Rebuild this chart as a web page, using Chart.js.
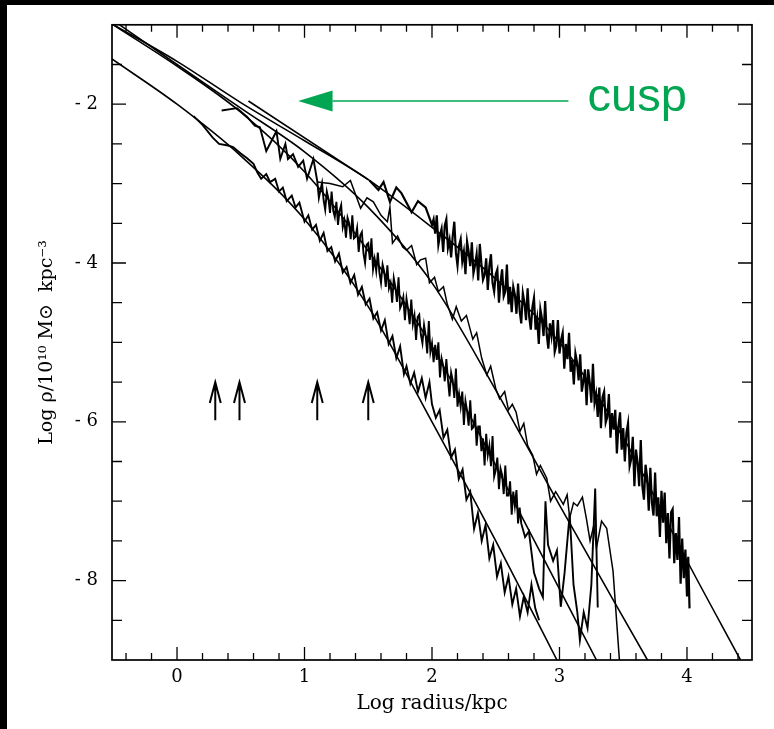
<!DOCTYPE html>
<html>
<head>
<meta charset="utf-8">
<script src="https://cdn.jsdelivr.net/npm/chart.js@4.4.1/dist/chart.umd.min.js"></script>
<style>
  html, body { margin: 0; padding: 0; background: #fff; }
  #wrap { position: relative; width: 774px; height: 729px; }
</style>
</head>
<body>
<div id="wrap"><canvas id="profile" width="774" height="729"></canvas></div>
<script>
/* ---------- DATA ---------- */
// axis labels
const xLabels = [0, 1, 2, 3, 4];
const yLabels = [-8, -6, -4, -2];

// smooth model fits (read at knots)
const m4X = [-0.52, 0, 0.5, 1.0, 1.5, 2.0, 2.5, 3.0, 3.5, 4.0, 4.42];
const m4Y = [-0.98, -1.46, -1.98, -2.46, -2.95, -3.55, -4.2, -5.0, -6.2, -7.75, -9.0];
const m3X = [-0.45, 0, 0.5, 1.0, 1.5, 2.0, 2.5, 3.0, 3.69];
const m3Y = [-1.0, -1.5, -2.05, -2.6, -3.3, -4.25, -5.6, -7.05, -9.0];
const m2X = [-0.52, 0, 0.5, 1.0, 1.5, 2.0, 2.5, 2.69, 3.29];
const m2Y = [-0.98, -1.52, -2.1, -2.85, -3.85, -5.05, -6.55, -7.15, -9.0];
const m1X = [-0.52, 0, 0.5, 1.0, 1.5, 2.0, 2.5, 2.98];
const m1Y = [-1.42, -2.0, -2.65, -3.45, -4.55, -6.0, -7.5, -9.0];

// straight "cusp" power law
const cuspX = [0.56, 1.5];
const cuspY = [-1.96, -2.95];

// measured profiles
const d4X = [1.51,1.58,1.62,1.67,1.72,1.76,1.84,1.89,1.95,2.00,
  2.0125,2.025,2.0375,2.05,2.0625,2.075,2.0875,2.1,2.1125,2.125,2.1375,2.15,2.1625,2.175,2.1875,2.2,2.2125,2.225,2.2375,2.25,
  2.2625,2.275,2.2875,2.3,2.3125,2.325,2.3375,2.35,2.3625,2.375,2.3875,2.4,2.4125,2.425,2.4375,2.45,2.4625,2.475,2.4875,2.5,
  2.5125,2.525,2.5375,2.55,2.5625,2.575,2.5875,2.6,2.6125,2.625,2.6375,2.65,2.6625,2.675,2.6875,2.7,2.7125,2.725,2.7375,2.75,
  2.7625,2.775,2.7875,2.8,2.8125,2.825,2.8375,2.85,2.8625,2.875,2.8875,2.9,2.9125,2.925,2.9375,2.95,2.9625,2.975,2.9875,3.0,
  3.0125,3.025,3.0375,3.05,3.0625,3.075,3.0875,3.1,3.1125,3.125,3.1375,3.15,3.1625,3.175,3.1875,3.2,3.2125,3.225,3.2375,3.25,
  3.2625,3.275,3.2875,3.3,3.3125,3.325,3.3375,3.35,3.3625,3.375,3.3875,3.4,3.4125,3.425,3.4375,3.45,3.4625,3.475,3.4875,3.5,
  3.5125,3.525,3.5375,3.55,3.5625,3.575,3.5875,3.6,3.6125,3.625,3.6375,3.65,3.6625,3.675,3.6875,3.7,3.7125,3.725,3.7375,3.75,
  3.7625,3.775,3.7875,3.8,3.8125,3.825,3.8375,3.85,3.8625,3.875,3.8875,3.9,3.9125,3.925,3.9375,3.95,3.9625,3.975,3.9875,4.0,
  4.01,4.02];
const d4Y = [-2.96,-3.08,-2.98,-3.23,-3.05,-3.12,-3.36,-3.22,-3.30,-3.52,
  -3.45,-3.63,-3.40,-3.77,-3.65,-3.57,-3.86,-3.53,-3.45,-3.81,-3.71,-3.93,-3.66,-3.48,-3.87,-4.03,-3.78,-3.70,-3.98,-3.86,
  -4.14,-3.73,-3.86,-4.04,-3.74,-4.13,-4.03,-3.89,-4.22,-3.76,-4.01,-4.21,-4.15,-3.94,-4.34,-4.04,-3.89,-4.25,-4.36,-4.14,
  -4.08,-4.50,-4.24,-4.08,-4.42,-4.36,-4.02,-4.52,-4.30,-4.62,-4.30,-4.40,-4.64,-4.26,-4.60,-4.76,-4.38,-4.50,-4.72,-4.32,
  -4.68,-4.84,-4.56,-4.44,-4.84,-4.70,-5.02,-4.58,-4.70,-4.92,-4.48,-4.90,-5.08,-4.76,-4.92,-4.72,-5.12,-5.04,-4.72,-5.14,
  -4.97,-4.88,-5.33,-5.02,-5.21,-4.88,-5.37,-5.22,-5.53,-5.14,-5.25,-5.48,-5.15,-5.62,-5.49,-5.34,-5.79,-5.34,-5.51,-5.76,
  -5.27,-5.76,-5.65,-5.94,-5.57,-6.08,-5.69,-5.62,-6.01,-5.94,-5.65,-6.20,-5.89,-6.10,-5.85,-6.40,-6.05,-5.88,-6.35,-6.08,
  -6.50,-6.14,-6.02,-6.56,-6.47,-6.19,-6.81,-6.35,-6.51,-6.81,-6.23,-6.81,-6.98,-6.54,-6.70,-7.12,-6.58,-7.02,-7.18,-6.64,
  -7.19,-6.95,-7.45,-6.87,-7.27,-6.89,-7.53,-7.15,-7.72,-7.14,-7.10,-7.78,-7.40,-7.74,-7.20,-8.04,-7.47,-7.97,-7.61,-8.20,
  -7.70,-8.35];

const d3X = [1.10,1.20,1.30,1.36,1.44,1.49,1.54,1.60,1.65,1.67,1.69,1.73,1.77,1.80,1.84,1.88,1.91,1.95,1.98,2.02,
  2.05,2.09,2.12,2.16,2.19,2.23,2.27,2.32,2.35,2.39,2.43,2.46,2.50,2.53,2.57,2.60,2.63,2.66,2.69,2.72,
  2.75,2.79,2.82,2.85,2.90,2.93,2.97,3.03,3.06,3.08,3.11,3.14,3.18,3.21,3.24,3.27,3.29,3.33,3.37,3.42,3.47];
const d3Y = [-2.98,-3.00,-3.04,-2.96,-3.31,-3.18,-3.23,-3.40,-3.48,-3.30,-3.75,-3.66,-3.80,-3.84,-3.78,-4.02,-3.96,-3.94,-4.25,-4.18,
  -4.36,-4.30,-4.52,-4.71,-4.55,-4.73,-4.66,-4.96,-4.88,-5.20,-5.41,-5.30,-5.58,-5.71,-5.62,-5.85,-5.78,-5.88,-6.12,-6.02,
  -6.30,-6.42,-6.66,-6.55,-6.71,-7.00,-6.88,-7.04,-6.92,-7.21,-7.02,-7.06,-6.95,-7.21,-7.50,-7.30,-7.59,-7.25,-7.34,-7.88,-9.00];

const d2X = [0.35,0.47,0.55,0.61,0.65,0.70,0.78,0.81,0.85,0.87,0.91,0.95,0.99,1.02,1.07,
  1.1,1.1125,1.125,1.1375,1.15,1.1625,1.175,1.1875,1.2,1.2125,1.225,1.2375,1.25,1.2625,1.275,1.2875,1.3,1.3125,1.325,1.3375,
  1.35,1.3625,1.375,1.3875,1.4,1.4125,1.425,1.4375,1.45,1.4625,1.475,1.4875,1.5,1.5125,1.525,1.5375,1.55,1.5625,1.575,1.5875,
  1.6,1.6125,1.625,1.6375,1.65,1.6625,1.675,1.6875,1.7,1.7125,1.725,1.7375,1.75,1.7625,1.775,1.7875,1.8,1.8125,1.825,1.8375,
  1.85,1.8625,1.875,1.8875,1.9,1.9125,1.925,1.9375,1.95,1.9625,1.975,1.9875,2.0,2.0125,2.025,2.0375,2.05,2.0625,2.075,2.0875,
  2.1,2.1125,2.125,2.1375,2.15,2.1625,2.175,2.1875,2.2,2.2125,2.225,2.2375,2.25,2.2625,2.275,2.2875,2.3,2.3125,2.325,2.3375,
  2.35,2.3625,2.375,2.3875,2.4,2.4125,2.425,2.4375,2.45,2.4625,2.475,2.4875,2.5,2.5125,2.525,2.5375,2.55,2.5625,2.575,2.5875,
  2.6,2.6125,2.625,2.6375,2.65,2.6625,2.675,2.6875,2.7,
  2.73,2.76,2.80,2.84,2.87,2.89,2.91,2.95,2.98,3.01,3.04,3.08,3.11,3.14,3.16,3.19,3.22,3.25,3.28,3.30];
const d2Y = [-2.08,-2.05,-2.16,-2.27,-2.29,-2.59,-2.34,-2.69,-2.50,-2.69,-2.63,-2.79,-2.71,-2.94,-2.69,
  -2.97,-3.18,-3.08,-2.99,-3.21,-3.33,-3.10,-3.19,-3.37,-3.10,-3.34,-3.42,-3.23,-3.52,-3.34,-3.27,-3.55,-3.46,-3.68,-3.43,
  -3.50,-3.70,-3.40,-3.69,-3.67,-3.56,-3.86,-3.65,-3.61,-3.88,-4.00,-3.77,-3.75,-3.96,-3.69,-4.08,-3.95,-4.10,-3.87,-4.12,
  -4.25,-4.02,-4.11,-4.30,-4.03,-4.32,-4.25,-4.50,-4.19,-4.30,-4.49,-4.18,-4.57,-4.52,-4.43,-4.72,-4.45,-4.58,-4.77,-4.46,
  -4.77,-4.66,-4.97,-4.68,-4.65,-4.90,-5.01,-4.78,-4.91,-5.14,-4.73,-5.12,-5.01,-5.25,-5.03,-5.22,-5.00,-5.44,-5.20,-5.29,
  -5.49,-5.21,-5.47,-5.68,-5.38,-5.48,-5.70,-5.33,-5.81,-5.65,-5.81,-5.62,-6.04,-5.74,-5.86,-6.05,-5.73,-6.09,-6.07,-5.90,
  -6.30,-6.06,-6.06,-6.37,-6.21,-6.55,-6.15,-6.42,-6.30,-6.56,-6.18,-6.69,-6.61,-6.45,-6.85,-6.59,-6.67,-6.91,-6.55,-6.93,
  -6.93,-6.75,-7.17,-6.88,-7.06,-6.86,-7.28,-7.08,-7.28,
  -7.45,-7.38,-7.90,-8.10,-8.21,-7.00,-7.55,-7.75,-7.62,-8.33,-7.90,-7.16,-8.05,-8.40,-8.75,-8.40,-8.60,-8.05,-6.84,-8.34];

const d1X = [0.13,0.20,0.28,0.33,0.40,0.44,0.50,0.55,0.60,0.63,0.66,0.70,0.73,0.77,0.80,0.83,0.86,0.90,0.93,0.96,
  1.00,1.03,1.06,1.09,1.12,1.15,1.18,1.21,1.24,1.27,1.30,1.33,1.36,1.39,1.42,1.45,1.48,1.51,1.54,1.57,
  1.60,1.63,1.66,1.69,1.72,1.75,1.78,1.80,1.83,1.86,1.89,1.92,1.95,1.98,2.00,2.03,2.06,2.09,2.12,2.15,
  2.18,2.21,2.24,2.27,2.30,2.33,2.36,2.39,2.42,2.45,2.48,2.51,2.54,2.57,2.60,2.63,2.66,2.69,2.72,2.75,
  2.78,2.81,2.84];
const d1Y = [-2.15,-2.26,-2.42,-2.50,-2.52,-2.54,-2.62,-2.68,-2.75,-2.86,-2.94,-2.88,-2.98,-2.94,-3.10,-3.05,-3.22,-3.15,-3.30,-3.24,
  -3.48,-3.40,-3.58,-3.52,-3.72,-3.62,-3.85,-3.80,-3.98,-3.88,-4.12,-4.05,-4.25,-4.15,-4.40,-4.30,-4.52,-4.45,-4.70,-4.62,
  -4.85,-4.72,-5.02,-4.92,-5.20,-5.05,-5.40,-5.30,-5.52,-5.38,-5.62,-5.45,-5.70,-5.50,-5.78,-5.95,-5.85,-6.20,-6.10,-6.45,
  -6.35,-6.72,-6.60,-6.98,-6.88,-7.35,-7.15,-7.50,-7.30,-7.72,-7.55,-7.95,-7.78,-8.15,-7.95,-8.30,-8.10,-8.45,-8.20,-8.40,
  -8.05,-8.35,-8.50];

// markers: upward arrows and the green "cusp" pointer
const arrowX = [0.3, 0.49, 1.1, 1.5];
const arrowTipY = -5.5;
const arrowTailY = -5.98;
const cuspArrow = { tip: 0.95, base: 1.22, end: 3.07, y: -1.96 };
const cuspLabel = { text: 'cusp', x: 3.22, y: -2.09 };

/* ---------- HELPERS ---------- */
const GREEN = '#00a651';
const SERIF = "'DejaVu Serif', 'Liberation Serif', serif";

function pts(xs, ys) { return xs.map((v, i) => ({ x: v, y: ys[i] })); }

function model(xs, ys) {
  return { data: pts(xs, ys), borderColor: '#000', borderWidth: 1.6,
           pointRadius: 0, fill: false, cubicInterpolationMode: 'monotone' };
}
function measured(xs, ys, w) {
  return { data: pts(xs, ys), borderColor: '#000', borderWidth: w,
           pointRadius: 0, fill: false, tension: 0, borderJoinStyle: 'miter' };
}

/* ---------- PLUGINS ---------- */
const background = {
  id: 'background',
  beforeDraw(chart) {
    const { ctx, width, height } = chart;
    ctx.save();
    ctx.fillStyle = '#fff';
    ctx.fillRect(0, 0, width, height);
    ctx.fillStyle = '#000';          // scan border, top and left
    ctx.fillRect(0, 0, width, 5);
    ctx.fillRect(0, 0, 7, height);
    ctx.restore();
  }
};

// frame + inward ticks on all four sides
const frame = {
  id: 'frame',
  afterDatasetsDraw(chart) {
    const { ctx, chartArea: a, scales: { x, y } } = chart;
    ctx.save();
    ctx.strokeStyle = '#000';
    ctx.lineWidth = 1.7;
    ctx.strokeRect(a.left, a.top, a.right - a.left, a.bottom - a.top);
    ctx.lineWidth = 1.3;
    ctx.beginPath();
    for (let i = -2; i <= 22; i++) {
      const v = i / 5;
      const px = x.getPixelForValue(v);
      const len = (i % 5 === 0) ? 13 : 7;
      ctx.moveTo(px, a.bottom); ctx.lineTo(px, a.bottom - len);
      ctx.moveTo(px, a.top);    ctx.lineTo(px, a.top + len);
    }
    for (let v = -8.5; v <= -1.5; v += 0.5) {
      const py = y.getPixelForValue(v);
      const len = (v % 2 === 0) ? 14 : 10;
      ctx.moveTo(a.left, py);  ctx.lineTo(a.left + len, py);
      ctx.moveTo(a.right, py); ctx.lineTo(a.right - len, py);
    }
    ctx.stroke();
    ctx.restore();
  }
};

const annotate = {
  id: 'annotate',
  afterDatasetsDraw(chart) {
    const { ctx, scales: { x, y } } = chart;
    ctx.save();
    // black arrows
    ctx.strokeStyle = '#000';
    ctx.lineWidth = 2;
    const top = y.getPixelForValue(arrowTipY);
    const bot = y.getPixelForValue(arrowTailY);
    arrowX.forEach(v => {
      const px = x.getPixelForValue(v);
      ctx.beginPath();
      ctx.moveTo(px, bot); ctx.lineTo(px, top);
      ctx.moveTo(px - 5.5, top + 21); ctx.lineTo(px, top); ctx.lineTo(px + 5.5, top + 21);
      ctx.stroke();
    });
    // green cusp arrow
    const cy = y.getPixelForValue(cuspArrow.y);
    const tipX = x.getPixelForValue(cuspArrow.tip);
    const baseX = x.getPixelForValue(cuspArrow.base);
    ctx.strokeStyle = GREEN;
    ctx.lineWidth = 1.5;
    ctx.beginPath();
    ctx.moveTo(x.getPixelForValue(cuspArrow.end), cy);
    ctx.lineTo(baseX, cy);
    ctx.stroke();
    ctx.fillStyle = GREEN;
    ctx.beginPath();
    ctx.moveTo(tipX, cy);
    ctx.lineTo(baseX, cy - 10.5);
    ctx.lineTo(baseX, cy + 10.5);
    ctx.closePath();
    ctx.fill();
    ctx.font = "47px 'Liberation Sans', Arial, sans-serif";
    ctx.textBaseline = 'alphabetic';
    ctx.textAlign = 'left';
    ctx.fillText(cuspLabel.text, x.getPixelForValue(cuspLabel.x), y.getPixelForValue(cuspLabel.y));
    ctx.restore();
  }
};

/* ---------- CHART ---------- */
new Chart(document.getElementById('profile'), {
  type: 'line',
  data: {
    datasets: [
      model(m4X, m4Y), model(m3X, m3Y), model(m2X, m2Y), model(m1X, m1Y),
      { ...model(cuspX, cuspY), cubicInterpolationMode: 'default', tension: 0 },
      measured(d4X, d4Y, 2.2), measured(d3X, d3Y, 1.5), measured(d2X, d2Y, 1.9), measured(d1X, d1Y, 1.9)
    ]
  },
  options: {
    responsive: false,
    animation: false,
    layout: { padding: { top: 20, right: 22, left: 0, bottom: 0 } },
    plugins: { legend: { display: false }, tooltip: { enabled: false } },
    scales: {
      x: {
        type: 'linear', min: -0.51, max: 4.51,
        grid: { display: false, drawTicks: false },
        border: { display: false },
        afterBuildTicks: s => { s.ticks = xLabels.map(v => ({ value: v })); },
        afterFit: s => { s.height = 69; },
        ticks: { color: '#000', font: { family: SERIF, size: 18 }, padding: 7,
                 autoSkip: false, maxRotation: 0, callback: v => String(v) },
        title: { display: true, text: 'Log radius/kpc', color: '#000',
                 font: { family: SERIF, size: 20 }, padding: { top: 0, bottom: 13 } }
      },
      y: {
        type: 'linear', min: -9, max: -1,
        grid: { display: false, drawTicks: false },
        border: { display: false },
        afterBuildTicks: s => { s.ticks = yLabels.map(v => ({ value: v })); },
        afterFit: s => { s.width = 112; },
        ticks: { color: '#000', font: { family: SERIF, size: 18 }, padding: 14,
                 callback: v => '- ' + Math.abs(v) },
        title: { display: true, text: 'Log ρ/10¹⁰ M⊙  kpc⁻³', color: '#000',
                 font: { family: SERIF, size: 19 }, padding: { top: 36, bottom: 0 } }
      }
    }
  },
  plugins: [background, frame, annotate]
});
</script>
</body>
</html>
